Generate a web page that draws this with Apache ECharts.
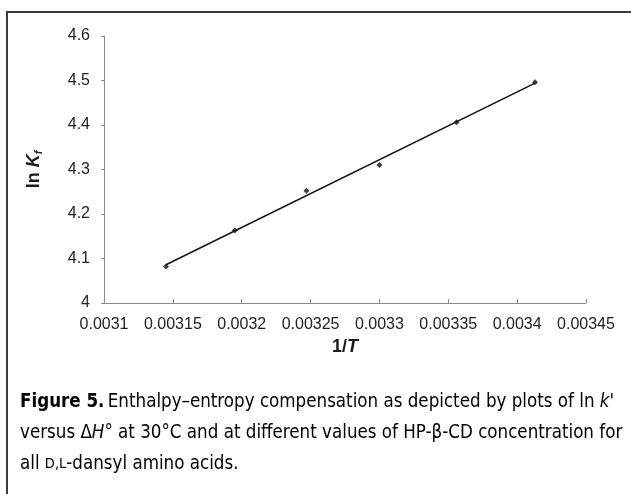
<!DOCTYPE html>
<html>
<head>
<meta charset="utf-8">
<script src="https://cdn.jsdelivr.net/npm/echarts@6/dist/echarts.min.js"></script>
<style>
  html, body { margin: 0; padding: 0; background: #fff; }
  #chart-target { width: 631px; height: 494px; }
</style>
</head>
<body>
<div id="chart-target"></div>
<script>
  // 1/T values (K^-1) and ln Kf
  var invT = [0.003145, 0.003195, 0.003247, 0.0033, 0.003356, 0.003413];
  var lnKf = [4.082, 4.163, 4.252, 4.310, 4.406, 4.496];
  // trend line end points (as drawn)
  var trendX = [0.003145, 0.003413];
  var trendY = [4.086, 4.494];
  var yTicks = [4, 4.1, 4.2, 4.3, 4.4, 4.5, 4.6];

  var points = invT.map(function (x, i) { return [x, lnKf[i]]; });
  var trend = trendX.map(function (x, i) { return [x, trendY[i]]; });

  var axisGray = '#8a8a8a';
  var capFont = '"DejaVu Sans Condensed", "Liberation Sans Narrow", sans-serif';

  var myChart = echarts.init(document.getElementById('chart-target'), null, { renderer: 'canvas' });
  myChart.setOption({
    animation: false,
    backgroundColor: '#fff',
    grid: { left: 104, top: 36, width: 482, height: 267 },
    xAxis: {
      type: 'value',
      min: 0.0031,
      max: 0.00345,
      interval: 0.00005,
      name: '{b|1/}{i|T}',
      nameLocation: 'middle',
      nameGap: 35,
      nameTextStyle: {
        rich: {
          b: { fontFamily: 'Liberation Sans', fontWeight: 'bold', fontSize: 18, color: '#1a1a1a' },
          i: { fontFamily: 'Liberation Sans', fontWeight: 'bold', fontStyle: 'italic', fontSize: 18, color: '#1a1a1a' }
        }
      },
      splitLine: { show: false },
      axisLine: { lineStyle: { color: axisGray, width: 1 } },
      axisTick: { inside: true, length: 4, lineStyle: { color: axisGray } },
      axisLabel: {
        margin: 14,
        fontFamily: 'Liberation Sans',
        fontSize: 16,
        color: '#222',
        formatter: function (v) { return String(parseFloat(v.toFixed(5))); }
      }
    },
    yAxis: {
      type: 'value',
      min: yTicks[0],
      max: yTicks[yTicks.length - 1],
      interval: 0.1,
      name: '{b|ln }{i|K}{s|f}',
      nameLocation: 'middle',
      nameGap: 60,
      nameTextStyle: {
        rich: {
          b: { fontFamily: 'Liberation Sans', fontWeight: 'bold', fontSize: 18, color: '#1a1a1a' },
          i: { fontFamily: 'Liberation Sans', fontWeight: 'bold', fontStyle: 'italic', fontSize: 18, color: '#1a1a1a' },
          s: { fontFamily: 'Liberation Sans', fontWeight: 'bold', fontStyle: 'italic', fontSize: 11, color: '#1a1a1a', padding: [8, 0, 0, 0] }
        }
      },
      splitLine: { show: false },
      axisLine: { show: true, lineStyle: { color: axisGray, width: 1 } },
      axisTick: { show: true, length: 3, lineStyle: { color: axisGray } },
      axisLabel: {
        margin: 14,
        fontFamily: 'Liberation Sans',
        fontSize: 16,
        color: '#222',
        formatter: function (v) { return String(parseFloat(v.toFixed(1))); }
      }
    },
    series: [
      {
        name: 'fit',
        type: 'line',
        data: trend,
        showSymbol: false,
        lineStyle: { color: '#111', width: 1.5 },
        z: 2
      },
      {
        name: 'ln Kf',
        type: 'scatter',
        data: points,
        symbol: 'diamond',
        symbolSize: 6,
        itemStyle: { color: '#111' },
        z: 3
      }
    ],
    graphic: [
      {
        type: 'rect',
        shape: { x: 7, y: 12, width: 640, height: 500 },
        style: { fill: 'none', stroke: '#3a3a3a', lineWidth: 2 },
        silent: true
      },
      {
        type: 'text',
        left: 20,
        top: 387,
        style: {
          text: '{fb|Figure 5.} {r|Enthalpy–entropy compensation as depicted by plots of ln }{it|k}{r|\'}\n' +
                '{r|versus Δ}{it|H}{r|° at 30°C and at different values of HP-β-CD concentration for}\n' +
                '{r|all }{sc|D,L}{r|-dansyl amino acids.}',
          lineHeight: 31,
          rich: {
            fb: { fontFamily: capFont, fontWeight: 'bold', fontSize: 18.6, color: '#1a1a1a', lineHeight: 31 },
            r: { fontFamily: capFont, fontSize: 18.6, color: '#1a1a1a', lineHeight: 31 },
            it: { fontFamily: capFont, fontStyle: 'italic', fontSize: 18.6, color: '#1a1a1a', lineHeight: 31 },
            sc: { fontFamily: capFont, fontSize: 14.5, color: '#1a1a1a', lineHeight: 31 }
          }
        }
      }
    ]
  });
</script>
</body>
</html>
